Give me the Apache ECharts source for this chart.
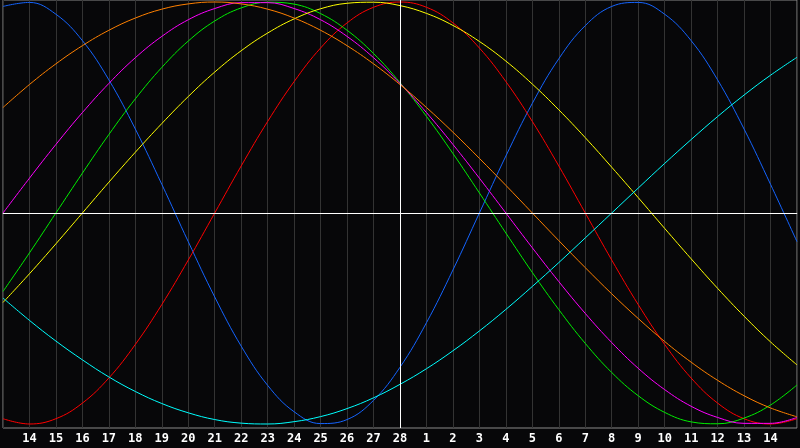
<!DOCTYPE html>
<html>
<head>
<meta charset="utf-8">
<script src="https://cdn.jsdelivr.net/npm/echarts@6/dist/echarts.min.js"></script>
<style>
html,body{margin:0;padding:0;background:#070709;}
#c{width:800px;height:448px;}
</style>
</head>
<body>
<div id="c"></div>
<script>
// Day labels (index 0 .. 30); 28 = today (centre)
const dayLabels = [13,14,15,16,17,18,19,20,21,22,23,24,25,26,27,28,1,2,3,4,5,6,7,8,9,10,11,12,13,14,15];
const todayIndex = 15;

// Cycle values, one per day
const physical = [0.979,0.998,0.942,0.817,0.631,0.398,0.136,-0.136,-0.398,-0.631,-0.817,-0.942,-0.998,-0.979,-0.888,-0.731,-0.520,-0.270,0,0.270,0.520,0.731,0.888,0.979,0.998,0.942,0.817,0.631,0.398,0.136,-0.136];
const emotional = [-0.975,-1,-0.975,-0.901,-0.782,-0.623,-0.434,-0.223,0,0.223,0.434,0.623,0.782,0.901,0.975,1,0.975,0.901,0.782,0.623,0.434,0.223,0,-0.223,-0.434,-0.623,-0.782,-0.901,-0.975,-1,-0.975];
const intellectual = [-0.372,-0.189,0,0.189,0.372,0.541,0.690,0.815,0.910,0.972,0.999,0.990,0.945,0.866,0.756,0.618,0.458,0.282,0.095,-0.095,-0.282,-0.458,-0.618,-0.756,-0.866,-0.945,-0.990,-0.999,-0.972,-0.910,-0.815];
const intuitive = [0,0.165,0.325,0.476,0.614,0.736,0.837,0.916,0.969,0.997,0.997,0.969,0.916,0.837,0.736,0.614,0.476,0.325,0.165,0,-0.165,-0.325,-0.476,-0.614,-0.736,-0.837,-0.916,-0.969,-0.997,-0.997,-0.969];
const aesthetic = [-0.424,-0.288,-0.146,0,0.146,0.288,0.424,0.552,0.668,0.769,0.853,0.920,0.968,0.994,0.999,0.983,0.946,0.889,0.813,0.720,0.611,0.489,0.357,0.217,0.073,-0.073,-0.217,-0.357,-0.489,-0.611,-0.720];
const awareness = [0.5,0.609,0.707,0.793,0.866,0.924,0.966,0.991,1,0.991,0.966,0.924,0.866,0.793,0.707,0.609,0.5,0.383,0.259,0.131,0,-0.131,-0.259,-0.383,-0.5,-0.609,-0.707,-0.793,-0.866,-0.924,-0.966];
const spiritual = [-0.403,-0.509,-0.607,-0.696,-0.777,-0.846,-0.903,-0.947,-0.979,-0.996,-1.000,-0.989,-0.965,-0.927,-0.876,-0.812,-0.738,-0.653,-0.559,-0.457,-0.348,-0.235,-0.118,0,0.118,0.235,0.348,0.457,0.559,0.653,0.738];

const seriesDefs = [
  {name:'Physical', values:physical, color:'#1464ff'},
  {name:'Emotional', values:emotional, color:'#ff0000'},
  {name:'Intellectual', values:intellectual, color:'#00ee00'},
  {name:'Intuitive', values:intuitive, color:'#ff00ff'},
  {name:'Aesthetic', values:aesthetic, color:'#ffff00'},
  {name:'Awareness', values:awareness, color:'#ff8000'},
  {name:'Spiritual', values:spiritual, color:'#00ffff'}
];

const chart = echarts.init(document.getElementById('c'), null, {renderer:'canvas'});
const series = seriesDefs.map(function(s){
  return {
    name:s.name, type:'line', smooth:0.4, symbol:'none', animation:false,
    lineStyle:{color:s.color, width:1},
    data:s.values.map(function(v,i){return [i,v];})
  };
});
series.push({
  type:'line', data:[], symbol:'none', animation:false,
  markLine:{
    silent:true, symbol:['none','none'], animation:false,
    label:{show:false},
    lineStyle:{color:'#ffffff', width:1, type:'solid'},
    data:[{xAxis:todayIndex},{yAxis:0}]
  }
});

chart.setOption({
  backgroundColor:'#070709',
  animation:false,
  grid:{left:0, right:1, top:0, bottom:20, show:true, borderColor:'#8a8a8a', borderWidth:1, backgroundColor:'#070709'},
  xAxis:{
    type:'value', min:0, max:30, interval:1,
    axisLine:{show:true, lineStyle:{color:'#8a8a8a', width:1}},
    axisTick:{show:false},
    splitLine:{show:true, lineStyle:{color:'#333333', width:1}},
    axisLabel:{
      color:'#ffffff', fontFamily:'DejaVu Sans Mono', fontWeight:'bold', fontSize:12, margin:5,
      formatter:function(v){ return (v<=0||v>=30)?'':String(dayLabels[v]); }
    }
  },
  yAxis:{
    type:'value', min:-1.019, max:1.0095, show:false, splitLine:{show:false}
  },
  series:series
});
</script>
</body>
</html>
